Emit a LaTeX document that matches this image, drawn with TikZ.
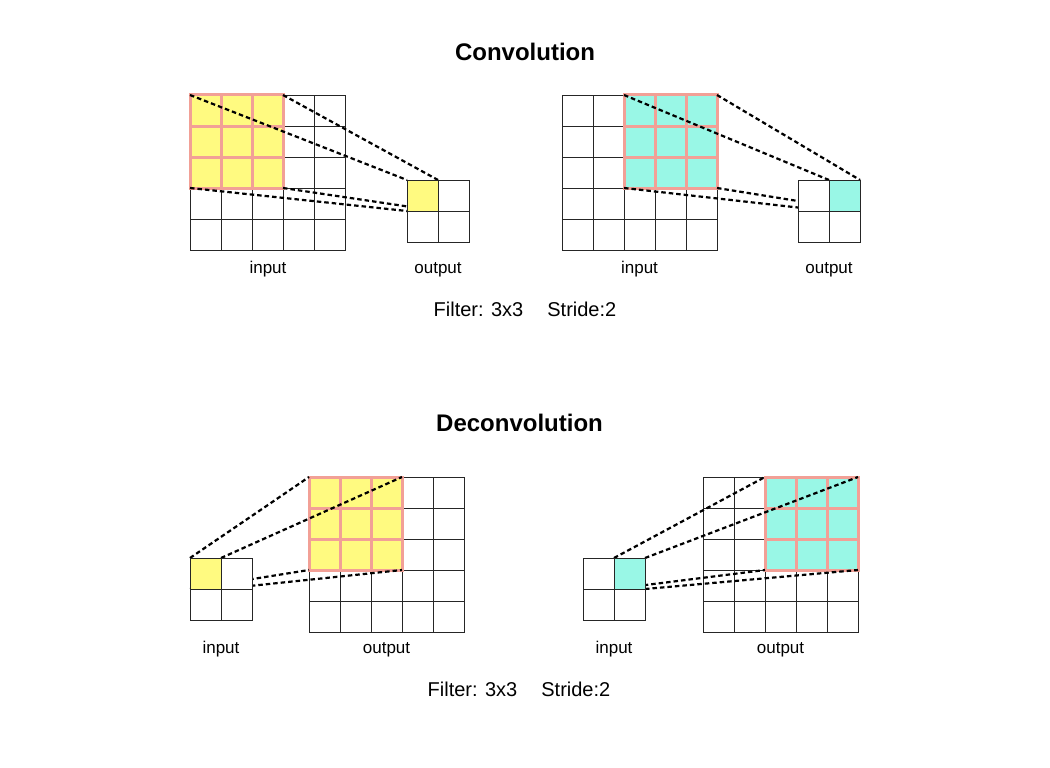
\documentclass[tikz,border=0pt]{standalone}
\usepackage{fontspec}
\setmainfont{Liberation Sans}
\definecolor{hlyellow}{RGB}{255,250,128}
\definecolor{hlcyan}{RGB}{153,247,230}
\definecolor{hlpink}{RGB}{242,160,150}
\newcommand\gridat[4]{%
  \foreach \ii in {1,...,#3}{\foreach \jj in {1,...,#4}{%
    \draw[gridln] ({#1+(\ii-1)*31},{#2+(\jj-1)*31}) rectangle ++(31,31);}}}
\newcommand\hlat[3]{%
  \fill[#3] (#1,#2) rectangle ++(93,93);
  \foreach \kk in {0,...,3}{%
    \draw[hlline] ({#1+\kk*31},#2) -- ++(0,93);
    \draw[hlline] (#1,{#2+\kk*31}) -- ++(93,0);}}
\begin{document}
\begin{tikzpicture}[x=1pt,y=-1pt,
  gridln/.style={draw=black!85,line width=0.9pt},
  hlline/.style={draw=hlpink,line width=3pt,line cap=rect},
  conn/.style={draw=black,line width=2.2pt,dash pattern=on 4.5pt off 3pt},
  lbl/.style={font=\fontsize{17}{20}\selectfont,anchor=base,inner sep=0},
  ttl/.style={font=\fontsize{24}{28}\selectfont\bfseries,anchor=base,inner sep=0},
  capt/.style={font=\fontsize{20}{24}\selectfont,anchor=base,inner sep=0},
  region/.style 2 args={rectangle,inner sep=0,outer sep=0,anchor=north west,minimum width=#1,minimum height=#2}]
\useasboundingbox (0,0) rectangle (1050,768);

% ---------------- Convolution ----------------
\node[ttl] (t1) at (525,60) {Convolution};

% left example
\gridat{190}{95}{5}{5}
\node[region={93pt}{93pt}] (hlA) at (190,95) {};
\hlat{190}{95}{hlyellow}
\node[region={62pt}{62pt}] (outA) at (407,180) {};
\node[region={31pt}{31pt}] (ocA) at (407,180) {};
\draw[conn] (hlA.north west) -- (ocA.north west);
\draw[conn] (hlA.north east) -- (ocA.north east);
\draw[conn] (hlA.south west) -- (ocA.south west);
\draw[conn] (hlA.south east) -- (ocA.south east);
\fill[white] (outA.north west) rectangle (outA.south east);
\fill[hlyellow] (ocA.north west) rectangle (ocA.south east);
\gridat{407}{180}{2}{2}
\node[lbl] (inA) at (268,273) {input};
\node[lbl] (otA) at (438,273) {output};

% right example
\gridat{562}{95}{5}{5}
\node[region={93pt}{93pt}] (hlB) at (624,95) {};
\hlat{624}{95}{hlcyan}
\node[region={62pt}{62pt}] (outB) at (798,180) {};
\node[region={31pt}{31pt}] (ocB) at (829,180) {};
\draw[conn] (hlB.north west) -- (ocB.north west);
\draw[conn] (hlB.north east) -- (ocB.north east);
\draw[conn] (hlB.south west) -- (ocB.south west);
\draw[conn] (hlB.south east) -- (ocB.south east);
\fill[white] (outB.north west) rectangle (outB.south east);
\fill[hlcyan] (ocB.north west) rectangle (ocB.south east);
\gridat{798}{180}{2}{2}
\node[lbl] (inB) at (639.5,273) {input};
\node[lbl] (otB) at (829,273) {output};

\node[capt] (c1) at (525,316.7) {Filter: 3x3\hspace{24pt}Stride:2};

% ---------------- Deconvolution ----------------
\node[ttl] (t2) at (519.5,431.7) {Deconvolution};

% left example
\gridat{309}{477}{5}{5}
\node[region={93pt}{93pt}] (hlC) at (309,477) {};
\hlat{309}{477}{hlyellow}
\node[region={62pt}{62pt}] (outC) at (190,558) {};
\node[region={31pt}{31pt}] (ocC) at (190,558) {};
\draw[conn] (ocC.north west) -- (hlC.north west);
\draw[conn] (ocC.north east) -- (hlC.north east);
\draw[conn] (ocC.south west) -- (hlC.south west);
\draw[conn] (ocC.south east) -- (hlC.south east);
\fill[white] (outC.north west) rectangle (outC.south east);
\fill[hlyellow] (ocC.north west) rectangle (ocC.south east);
\gridat{190}{558}{2}{2}
\node[lbl] (inC) at (221,653) {input};
\node[lbl] (otC) at (386.5,653) {output};

% right example
\gridat{703}{477}{5}{5}
\node[region={93pt}{93pt}] (hlD) at (765,477) {};
\hlat{765}{477}{hlcyan}
\node[region={62pt}{62pt}] (outD) at (583,558) {};
\node[region={31pt}{31pt}] (ocD) at (614,558) {};
\draw[conn] (ocD.north west) -- (hlD.north west);
\draw[conn] (ocD.north east) -- (hlD.north east);
\draw[conn] (ocD.south west) -- (hlD.south west);
\draw[conn] (ocD.south east) -- (hlD.south east);
\fill[white] (outD.north west) rectangle (outD.south east);
\fill[hlcyan] (ocD.north west) rectangle (ocD.south east);
\gridat{583}{558}{2}{2}
\node[lbl] (inD) at (614,653) {input};
\node[lbl] (otD) at (780.5,653) {output};

\node[capt] (c2) at (519,696.7) {Filter: 3x3\hspace{24pt}Stride:2};
\end{tikzpicture}
\end{document}
